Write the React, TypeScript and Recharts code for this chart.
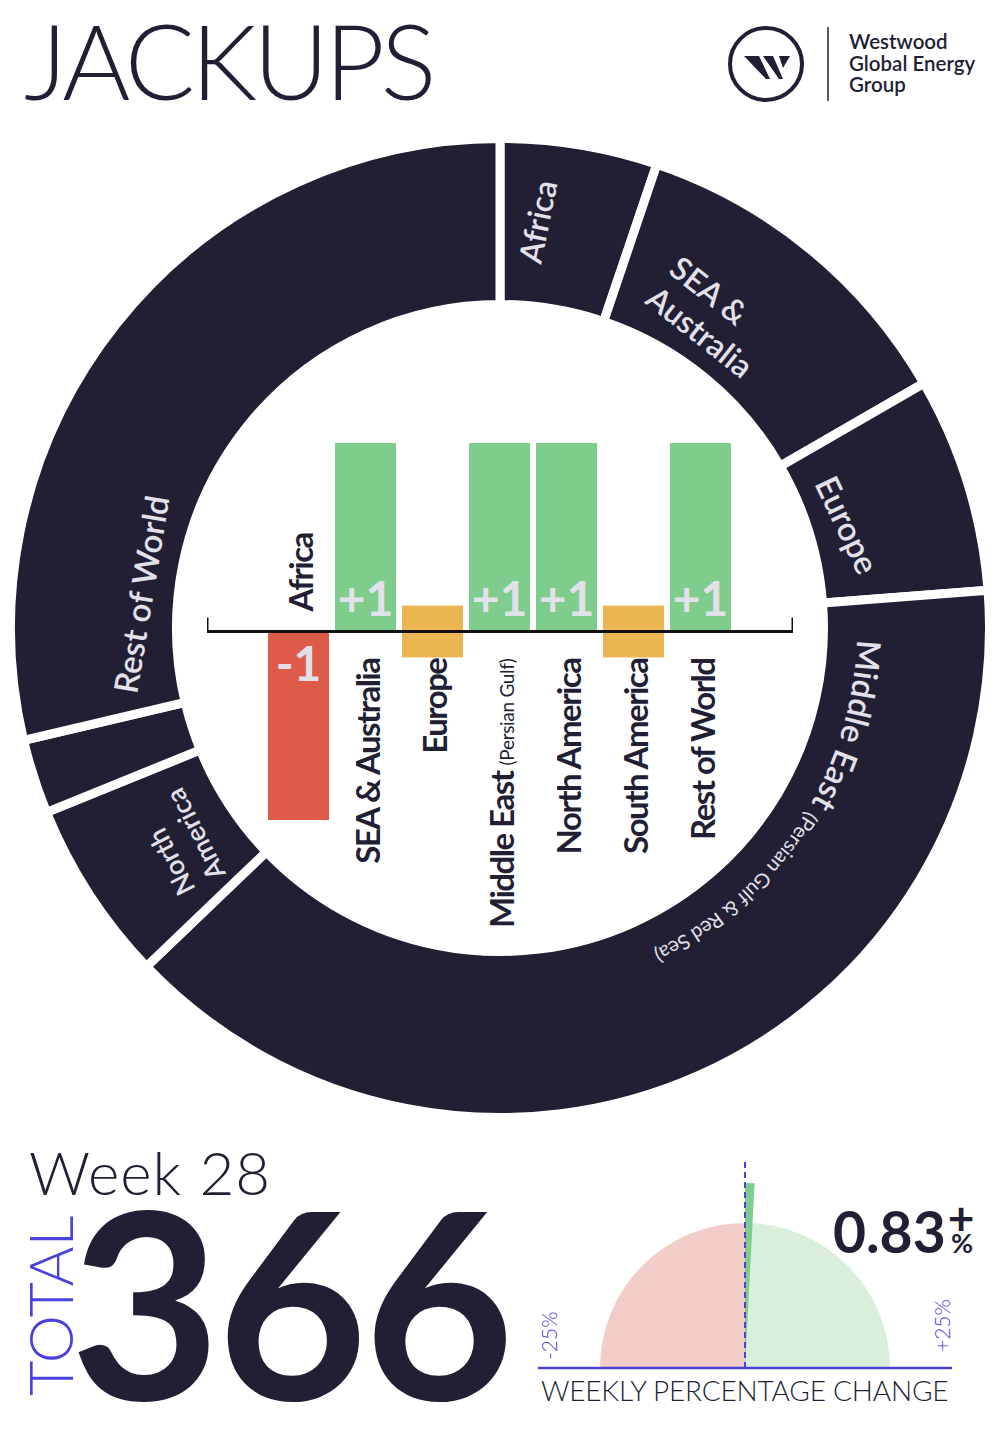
import React from "react";
import {
  PieChart,
  Pie,
  Cell,
  BarChart,
  Bar,
  XAxis,
  YAxis,
  ReferenceLine,
  LabelList,
} from "recharts";

const INK = "#221f35";
const PALE = "#e2e1ea";
const BLUE = "#4a42dd";
const UP = "#7fcd8c";
const DOWN = "#df5b49";
const FLAT = "#ebb551";
const FONT = "Lato, 'Noto Sans', sans-serif";
const NO_MARGIN = { top: 0, right: 0, bottom: 0, left: 0 };

// jackup fleet by region (outer ring), clockwise from 12 o'clock
const fleetRegions = [
  "Africa",
  "SEA & Australia",
  "Europe",
  "Middle East",
  "North America",
  "South America",
  "Rest of World",
];
const fleetCounts = [19, 42, 26, 143, 22, 9, 105];

// week-on-week change per region (inner bars)
const changeRegions = [
  "Africa",
  "SEA & Australia",
  "Europe",
  "Middle East",
  "North America",
  "South America",
  "Rest of World",
];
const changeNotes = ["", "", "", "(Persian Gulf)", "", "", ""];
const weeklyChange = [-1, 1, 0, 1, 1, 0, 1];

const weekNo = 28;
const gaugeLimits = [-25, 25];

const total = fleetCounts.reduce((s, v) => s + v, 0);
const net = weeklyChange.reduce((s, v) => s + v, 0);
const pct = (net / (total - net)) * 100;

const ringData = fleetRegions.map((name, i) => ({ name, value: fleetCounts[i] }));
const barData = changeRegions.map((name, i) => ({
  name,
  note: changeNotes[i],
  change: weeklyChange[i],
}));
const gaugeHalves = [
  { name: "fall", value: -gaugeLimits[0] },
  { name: "rise", value: gaugeLimits[1] },
];
const needle = [{ name: "change", value: Math.abs(pct) }];

// where the ring labels sit (styling only)
type RingLabel = {
  lines: string[];
  r: number;
  dAngle: number;
  radial?: boolean;
  rotAdj: number;
  size: number;
  lineH?: number;
  shift?: number;
};
const ringLabelLayout: Record<string, RingLabel> = {
  Africa: { lines: ["Africa"], r: 408, dAngle: -4, radial: true, rotAdj: 6, size: 32 },
  "SEA & Australia": { lines: ["SEA &", "Australia"], r: 376, dAngle: -5, rotAdj: 4, size: 32, lineH: 38, shift: 63 },
  Europe: { lines: ["Europe"], r: 362, dAngle: 0.7, rotAdj: -9, size: 33 },
  "North America": { lines: ["North", "America"], r: 385, dAngle: -1, rotAdj: 7, size: 27, lineH: 34, shift: 48 },
  "Rest of World": { lines: ["Rest of World"], r: 360, dAngle: -33, rotAdj: 4, size: 33 },
};

const RAD = Math.PI / 180;

const renderRingLabel = (p: any) => {
  const { cx, cy, midAngle, startAngle, endAngle, index } = p;
  const region = fleetRegions[index];
  if (region === "Middle East") {
    const r = 357;
    const t0 = Math.min(90 - startAngle, 90 - endAngle) + 6.3;
    const a1 = t0 * RAD;
    const a2 = (t0 + 80) * RAD;
    const d = `M${cx + r * Math.sin(a1)},${cy - r * Math.cos(a1)} A${r},${r} 0 0 1 ${cx + r * Math.sin(a2)},${cy - r * Math.cos(a2)}`;
    return (
      <g key="me">
        <path id="me-arc" d={d} fill="none" stroke="none" />
        <text fill={PALE} fontFamily={FONT}>
          <textPath href="#me-arc">
            <tspan fontSize={33} fontWeight={600}>Middle East</tspan>
            <tspan fontSize={20} fontWeight={400} dx={8}>(Persian Gulf &amp; Red Sea)</tspan>
          </textPath>
        </text>
      </g>
    );
  }
  const lay = ringLabelLayout[region];
  if (!lay) return null;
  const theta = 90 - midAngle + lay.dAngle;
  const x = cx + lay.r * Math.sin(theta * RAD);
  const y = cy - lay.r * Math.cos(theta * RAD);
  const rot = (lay.radial ? theta - 90 : theta) + lay.rotAdj;
  const n = lay.lines.length;
  const lh = lay.lineH ?? lay.size;
  return (
    <g key={region} transform={`translate(${x},${y}) rotate(${rot})`}>
      <text
        textAnchor={n > 1 ? "start" : "middle"}
        fill={PALE}
        fontSize={lay.size}
        fontWeight={600}
        fontFamily={FONT}
      >
        {lay.lines.map((l, i) => (
          <tspan key={i} x={n > 1 ? -(lay.shift ?? 0) : 0} y={(i - (n - 1) / 2) * lh + lay.size * 0.36}>
            {l}
          </tspan>
        ))}
      </text>
    </g>
  );
};

const zeroOf = (vb: any, v: number) =>
  v >= 0 ? Math.max(vb.y, vb.y + vb.height) : Math.min(vb.y, vb.y + vb.height);

const ChangeBar = (p: any) => {
  const { x, y, width, height, payload } = p;
  const v = payload.change;
  const z = zeroOf({ y, height }, v);
  if (v === 0) {
    const s = width * 0.85;
    return <rect x={x} y={z - s / 2} width={width} height={s} fill={FLAT} />;
  }
  return (
    <rect
      x={x}
      y={Math.min(y, y + height)}
      width={width}
      height={Math.abs(height)}
      fill={v > 0 ? UP : DOWN}
    />
  );
};

const ValueTag = (p: any) => {
  const vb = p.viewBox ?? p;
  const i = p.index ?? 0;
  const v = weeklyChange[i];
  if (!v) return null;
  const z = zeroOf(vb, v);
  return (
    <text
      x={vb.x + vb.width / 2}
      y={v > 0 ? z - 16 : z + 49}
      textAnchor="middle"
      fontSize={48}
      fontWeight={700}
      fontFamily={FONT}
      fill={PALE}
    >
      {v > 0 ? `+${v}` : `${v}`}
    </text>
  );
};

const CategoryTag = (p: any) => {
  const vb = p.viewBox ?? p;
  const i = p.index ?? changeRegions.indexOf(p.value);
  const v = weeklyChange[i];
  const z = zeroOf(vb, v);
  const above = v < 0;
  const bx = vb.x + vb.width / 2 + 14;
  const y = above ? z - 20 : z + 27;
  const note = changeNotes[i];
  return (
    <text
      transform={`translate(${bx},${y}) rotate(-90)`}
      textAnchor={above ? "start" : "end"}
      fontSize={33}
      fontWeight={700}
      letterSpacing={-1.5}
      fontFamily={FONT}
      fill={INK}
    >
      {changeRegions[i]}
      {note ? (
        <tspan fontSize={19} fontWeight={400} letterSpacing={-0.3} dx={6}>
          {note}
        </tspan>
      ) : null}
    </text>
  );
};

const Bracket = (p: any) => {
  const { x1, y1, x2, y2 } = p;
  return (
    <path
      d={`M${x1},${y1 - 14} V${y1} H${x2} V${y2 - 14}`}
      fill="none"
      stroke="#111"
      strokeWidth={3}
    />
  );
};

export default function App() {
  const sign = pct >= 0 ? "+" : "-";
  return (
    <div
      style={{
        position: "relative",
        width: 1000,
        height: 1440,
        background: "#fff",
        fontFamily: FONT,
        overflow: "hidden",
      }}
    >
      <style>{"body{margin:0}"}</style>

      {/* outer ring: fleet by region */}
      <div style={{ position: "absolute", left: 0, top: 128 }}>
        <PieChart width={1000} height={1000} margin={NO_MARGIN}>
          <Pie
            data={ringData}
            dataKey="value"
            nameKey="name"
            cx={500}
            cy={500}
            innerRadius={323.5}
            outerRadius={489.5}
            startAngle={90}
            endAngle={-270}
            fill={INK}
            stroke="#fff"
            strokeWidth={9}
            label={renderRingLabel}
            labelLine={false}
            isAnimationActive={false}
          />
        </PieChart>
      </div>

      {/* inner bars: weekly change */}
      <div style={{ position: "absolute", left: 207, top: 343 }}>
        <BarChart
          width={586}
          height={607}
          data={barData}
          margin={{ top: 100, right: 0, bottom: 130, left: 0 }}
        >
          <XAxis dataKey="name" hide padding={{ left: 58, right: 59 }} />
          <YAxis hide type="number" domain={[-1, 1]} />
          <ReferenceLine y={0} shape={Bracket} />
          <Bar dataKey="change" barSize={61} shape={ChangeBar} isAnimationActive={false}>
            <LabelList dataKey="change" content={ValueTag} />
            <LabelList dataKey="name" content={CategoryTag} />
          </Bar>
        </BarChart>
      </div>

      {/* gauge */}
      <div style={{ position: "absolute", left: 545, top: 1148 }}>
        <PieChart width={400} height={222} margin={NO_MARGIN}>
          <Pie
            data={gaugeHalves}
            dataKey="value"
            cx={200}
            cy={220}
            startAngle={180}
            endAngle={0}
            innerRadius={0}
            outerRadius={145}
            stroke="none"
            isAnimationActive={false}
          >
            <Cell fill="#f2cdc7" />
            <Cell fill="#d9efdc" />
          </Pie>
          <Pie
            data={needle}
            dataKey="value"
            cx={200}
            cy={220}
            startAngle={90}
            endAngle={90 - (pct / gaugeLimits[1]) * 90}
            innerRadius={0}
            outerRadius={185}
            fill={UP}
            stroke="none"
            isAnimationActive={false}
          />
        </PieChart>
      </div>

      <svg
        width={1000}
        height={1440}
        style={{ position: "absolute", left: 0, top: 0, pointerEvents: "none" }}
        fontFamily={FONT}
      >
        <text x={24} y={100} fontSize={104} fontWeight={300} fill={INK} letterSpacing={-4}>
          JACKUPS
        </text>

        {/* logo */}
        <circle cx={766} cy={64} r={36} fill="none" stroke={INK} strokeWidth={4} />
        <polygon points="744,56 759,56 770,79 766,79" fill={INK} />
        <polygon points="763,56 773,56 783,79 779,79" fill={INK} />
        <polygon points="779,56 790,56 783,68" fill={INK} />
        <line x1={828} y1={27} x2={828} y2={101} stroke={INK} strokeWidth={1.5} />
        <g fontSize={20.5} fontWeight={600} fill={INK}>
          <text x={849} y={49}>Westwood</text>
          <text x={849} y={71}>Global Energy</text>
          <text x={849} y={92}>Group</text>
        </g>

        <text x={29} y={1195} fontSize={60} fontWeight={300} fill={INK} letterSpacing={1}>
          Week {weekNo}
        </text>
        <text
          transform="translate(73,1396) rotate(-90)"
          fontSize={61}
          fontWeight={300}
          fill={BLUE}
        >
          TOTAL
        </text>
        <text x={70} y={1400} fontSize={260} fontWeight={700} fill={INK} letterSpacing={-4}>
          {total}
        </text>

        {/* gauge furniture */}
        <line x1={745} y1={1162} x2={745} y2={1368} stroke={BLUE} strokeWidth={2} strokeDasharray="6 4" />
        <line x1={538} y1={1368} x2={952} y2={1368} stroke={BLUE} strokeWidth={2.5} />
        <text transform="translate(557,1360) rotate(-90)" fontSize={21} fontWeight={300} fill={BLUE}>
          {`${gaugeLimits[0]}%`}
        </text>
        <text transform="translate(950,1352) rotate(-90)" fontSize={21} fontWeight={300} fill={BLUE}>
          {`+${gaugeLimits[1]}%`}
        </text>
        <text x={541} y={1401} fontSize={28} fontWeight={300} fill={INK} letterSpacing={-0.2}>
          WEEKLY PERCENTAGE CHANGE
        </text>
        <text x={833} y={1253} fontSize={57} fontWeight={700} fill={INK}>
          {Math.abs(pct).toFixed(2)}
        </text>
        <text x={961} y={1235} fontSize={46} fontWeight={700} fill={INK} textAnchor="middle">
          {sign}
        </text>
        <text x={962} y={1253} fontSize={27} fontWeight={700} fill={INK} textAnchor="middle">
          %
        </text>
      </svg>
    </div>
  );
}
